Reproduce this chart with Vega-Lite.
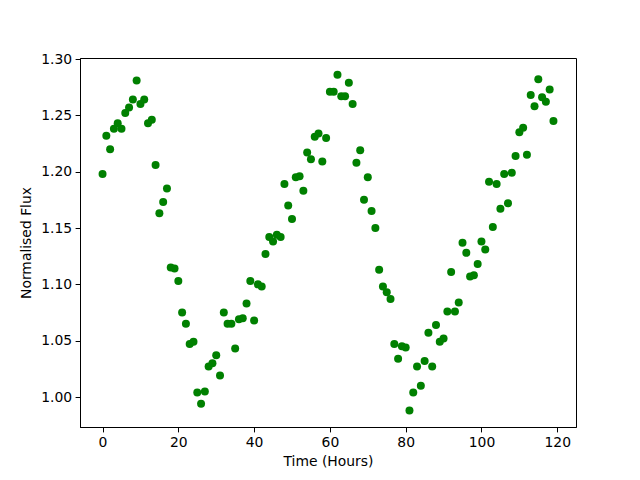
{
  "$schema": "https://vega.github.io/schema/vega-lite/v6.json",
  "width": 496,
  "height": 369,
  "autosize": {"type": "none"},
  "padding": {"left": 80, "top": 58, "right": 64, "bottom": 53},
  "background": "white",
  "config": {
    "view": {"stroke": "black", "strokeWidth": 1},
    "font": "DejaVu Sans",
    "axis": {
      "domainColor": "black",
      "tickColor": "black",
      "tickSize": 4.9,
      "labelFont": "DejaVu Sans",
      "labelFontSize": 13.9,
      "labelColor": "black",
      "labelPadding": 3.5,
      "titleFont": "DejaVu Sans",
      "titleFontSize": 13.9,
      "titleFontWeight": "normal",
      "titleColor": "black",
      "grid": false
    }
  },
  "data": {"values": [
    {"t":0,"f":1.198},{"t":1,"f":1.232},{"t":2,"f":1.220},{"t":3,"f":1.238},{"t":4,"f":1.243},
    {"t":5,"f":1.238},{"t":6,"f":1.252},{"t":7,"f":1.257},{"t":8,"f":1.264},{"t":9,"f":1.281},
    {"t":10,"f":1.260},{"t":11,"f":1.264},{"t":12,"f":1.243},{"t":13,"f":1.246},{"t":14,"f":1.206},
    {"t":15,"f":1.163},{"t":16,"f":1.173},{"t":17,"f":1.185},{"t":18,"f":1.115},{"t":19,"f":1.114},
    {"t":20,"f":1.103},{"t":21,"f":1.075},{"t":22,"f":1.065},{"t":23,"f":1.047},{"t":24,"f":1.049},
    {"t":25,"f":1.004},{"t":26,"f":0.994},{"t":27,"f":1.005},{"t":28,"f":1.027},{"t":29,"f":1.030},
    {"t":30,"f":1.037},{"t":31,"f":1.019},{"t":32,"f":1.075},{"t":33,"f":1.065},{"t":34,"f":1.065},
    {"t":35,"f":1.043},{"t":36,"f":1.069},{"t":37,"f":1.070},{"t":38,"f":1.083},{"t":39,"f":1.103},
    {"t":40,"f":1.068},{"t":41,"f":1.100},{"t":42,"f":1.098},{"t":43,"f":1.127},{"t":44,"f":1.142},
    {"t":45,"f":1.138},{"t":46,"f":1.144},{"t":47,"f":1.142},{"t":48,"f":1.189},{"t":49,"f":1.170},
    {"t":50,"f":1.158},{"t":51,"f":1.195},{"t":52,"f":1.196},{"t":53,"f":1.183},{"t":54,"f":1.217},
    {"t":55,"f":1.211},{"t":56,"f":1.231},{"t":57,"f":1.234},{"t":58,"f":1.209},{"t":59,"f":1.230},
    {"t":60,"f":1.271},{"t":61,"f":1.271},{"t":62,"f":1.286},{"t":63,"f":1.267},{"t":64,"f":1.267},
    {"t":65,"f":1.279},{"t":66,"f":1.260},{"t":67,"f":1.208},{"t":68,"f":1.219},{"t":69,"f":1.175},
    {"t":70,"f":1.195},{"t":71,"f":1.165},{"t":72,"f":1.150},{"t":73,"f":1.113},{"t":74,"f":1.098},
    {"t":75,"f":1.093},{"t":76,"f":1.087},{"t":77,"f":1.047},{"t":78,"f":1.034},{"t":79,"f":1.045},
    {"t":80,"f":1.044},{"t":81,"f":0.988},{"t":82,"f":1.004},{"t":83,"f":1.027},{"t":84,"f":1.010},
    {"t":85,"f":1.032},{"t":86,"f":1.057},{"t":87,"f":1.027},{"t":88,"f":1.064},{"t":89,"f":1.049},
    {"t":90,"f":1.052},{"t":91,"f":1.076},{"t":92,"f":1.111},{"t":93,"f":1.076},{"t":94,"f":1.084},
    {"t":95,"f":1.137},{"t":96,"f":1.128},{"t":97,"f":1.107},{"t":98,"f":1.108},{"t":99,"f":1.118},
    {"t":100,"f":1.138},{"t":101,"f":1.131},{"t":102,"f":1.191},{"t":103,"f":1.151},{"t":104,"f":1.189},
    {"t":105,"f":1.167},{"t":106,"f":1.198},{"t":107,"f":1.172},{"t":108,"f":1.199},{"t":109,"f":1.214},
    {"t":110,"f":1.235},{"t":111,"f":1.239},{"t":112,"f":1.215},{"t":113,"f":1.268},{"t":114,"f":1.258},
    {"t":115,"f":1.282},{"t":116,"f":1.266},{"t":117,"f":1.262},{"t":118,"f":1.273},{"t":119,"f":1.245}
  ]},
  "mark": {"type": "circle", "color": "green", "opacity": 1, "size": 64},
  "encoding": {
    "x": {
      "field": "t", "type": "quantitative",
      "scale": {"domain": [-5.95, 124.95], "nice": false, "zero": false},
      "axis": {"title": "Time (Hours)", "values": [0, 20, 40, 60, 80, 100, 120], "format": "d", "titlePadding": 5}
    },
    "y": {
      "field": "f", "type": "quantitative",
      "scale": {"domain": [0.9734, 1.3009], "nice": false, "zero": false},
      "axis": {"title": "Normalised Flux", "values": [1.0, 1.05, 1.1, 1.15, 1.2, 1.25, 1.3], "format": ".2f", "titlePadding": 7}
    }
  }
}
